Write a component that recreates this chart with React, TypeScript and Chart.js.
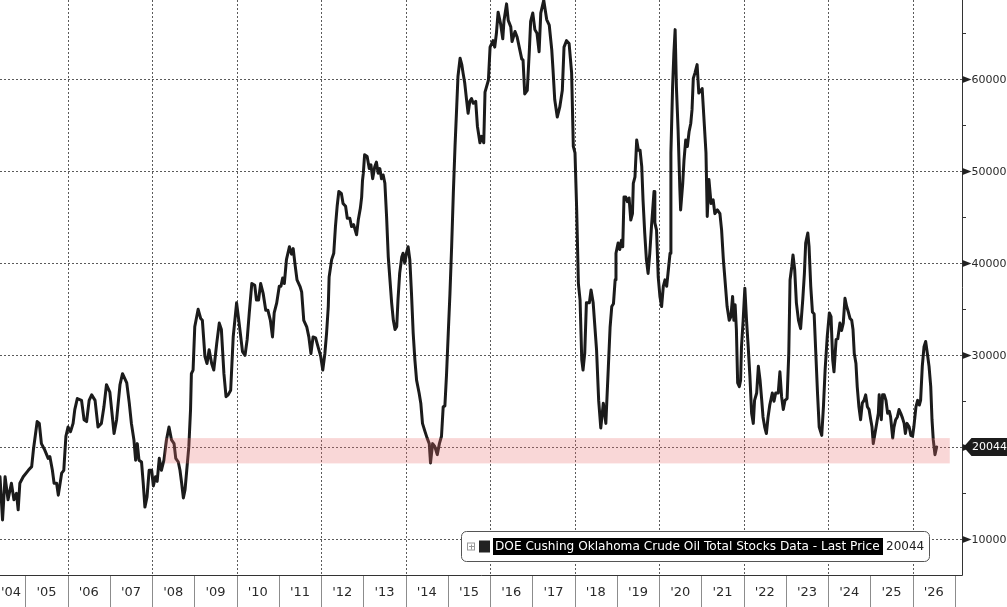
import { useEffect, useRef } from "react";
import { Chart, registerables } from "chart.js";

Chart.register(...registerables);

// ---------------- data ----------------
const seriesLabel = "DOE Cushing Oklahoma Crude Oil Total Stocks Data - Last Price";
const lastPrice = 20044;

// [decimal year, thousand barrels]
const stockSeries: [number, number][] = [
  [2004.40, 16800], [2004.46, 12100], [2004.52, 16800], [2004.59, 14300], [2004.67, 16100], [2004.73, 14300],
  [2004.79, 15000], [2004.83, 13200], [2004.87, 16100], [2004.95, 16800], [2005.07, 17500], [2005.15, 17900],
  [2005.19, 19700], [2005.28, 22800], [2005.33, 22600], [2005.38, 20400], [2005.46, 19700], [2005.54, 18800],
  [2005.58, 19000], [2005.64, 17500], [2005.68, 16100], [2005.74, 16100], [2005.78, 14800], [2005.86, 17200],
  [2005.91, 17500], [2005.96, 21200], [2006.01, 22200], [2006.07, 21700], [2006.13, 22600], [2006.17, 24100],
  [2006.23, 25300], [2006.33, 25100], [2006.39, 23000], [2006.45, 22800], [2006.51, 25100], [2006.57, 25700],
  [2006.65, 25100], [2006.72, 22200], [2006.80, 22600], [2006.86, 24400], [2006.92, 26800], [2007.00, 26000],
  [2007.10, 21500], [2007.16, 23000], [2007.24, 26800], [2007.30, 28000],
  [2007.40, 27000], [2007.46, 24800], [2007.51, 22600], [2007.57, 20800], [2007.61, 18600], [2007.65, 20400],
  [2007.69, 18600], [2007.75, 18400], [2007.79, 16100], [2007.83, 13500], [2007.88, 14600], [2007.93, 17500],
  [2007.99, 17500], [2008.03, 15800], [2008.08, 16800], [2008.12, 16300], [2008.17, 18800], [2008.22, 17500],
  [2008.28, 18600], [2008.34, 20800], [2008.40, 22200], [2008.46, 20800], [2008.52, 20400], [2008.56, 18800],
  [2008.62, 18400], [2008.66, 17500], [2008.70, 16100], [2008.74, 14500], [2008.78, 15400], [2008.82, 17500],
  [2008.87, 20100], [2008.91, 24100], [2008.93, 28000], [2008.97, 28400], [2009.01, 33100], [2009.09, 35000],
  [2009.15, 34000], [2009.19, 33800], [2009.25, 29900], [2009.30, 29100], [2009.35, 30600], [2009.41, 29100],
  [2009.46, 28400], [2009.53, 31300], [2009.59, 33500], [2009.64, 32800], [2009.70, 28000], [2009.75, 25500],
  [2009.80, 25700], [2009.86, 26200], [2009.92, 32000], [2010.00, 35700], [2010.06, 33500], [2010.14, 30400],
  [2010.20, 30000], [2010.25, 31700], [2010.30, 34600], [2010.36, 37800],
  [2010.43, 37600], [2010.47, 36000], [2010.52, 36000], [2010.57, 37800], [2010.63, 36700], [2010.69, 34900],
  [2010.74, 34900], [2010.80, 33800], [2010.85, 32000], [2010.89, 34600], [2010.95, 35700], [2011.01, 37500],
  [2011.05, 37500], [2011.09, 38400], [2011.13, 37800], [2011.18, 40400], [2011.25, 41800], [2011.30, 41000],
  [2011.34, 41600], [2011.38, 40000], [2011.43, 38200], [2011.50, 37500], [2011.54, 36900], [2011.59, 33800],
  [2011.66, 33100], [2011.71, 32000], [2011.76, 30200], [2011.81, 32000], [2011.87, 31900], [2011.93, 30900],
  [2011.99, 29900], [2012.04, 28400], [2012.09, 30200], [2012.13, 32400], [2012.17, 35300], [2012.19, 38500],
  [2012.25, 40400], [2012.30, 41100], [2012.34, 44000], [2012.38, 46200], [2012.42, 47800], [2012.48, 47600],
  [2012.52, 46500], [2012.58, 46200], [2012.62, 44900], [2012.68, 44900], [2012.72, 44000], [2012.77, 44200],
  [2012.84, 43100], [2012.88, 44700], [2012.93, 46000], [2012.96, 47200], [2012.98, 49000],
  [2013.00, 49800], [2013.03, 51800], [2013.09, 51600], [2013.14, 50300], [2013.18, 50700], [2013.22, 49200],
  [2013.27, 50500], [2013.31, 51000], [2013.35, 49800], [2013.39, 50300], [2013.43, 49200], [2013.47, 49600],
  [2013.51, 48700], [2013.55, 45100], [2013.59, 40700], [2013.63, 38200], [2013.67, 35700], [2013.71, 33800],
  [2013.75, 32800], [2013.79, 33100], [2013.82, 36000], [2013.86, 38900], [2013.91, 40700], [2013.94, 41100],
  [2013.98, 40000], [2014.02, 41100], [2014.06, 41800], [2014.10, 40400], [2014.14, 36700], [2014.18, 32400],
  [2014.22, 29500], [2014.26, 27300], [2014.32, 25900], [2014.36, 24800], [2014.40, 22600], [2014.46, 21700],
  [2014.51, 21000], [2014.56, 20400], [2014.59, 18300], [2014.64, 20400], [2014.69, 20100], [2014.75, 19200],
  [2014.80, 20400], [2014.85, 21200], [2014.89, 24400], [2014.93, 24500], [2014.97, 28000], [2015.01, 32400],
  [2015.05, 36700], [2015.09, 41800], [2015.13, 47600], [2015.17, 52700], [2015.21, 57000], [2015.24, 60300],
  [2015.29, 62300], [2015.33, 61600], [2015.36, 60700], [2015.40, 59600], [2015.44, 57900], [2015.48, 56300],
  [2015.52, 57600], [2015.56, 57900], [2015.60, 57400], [2015.66, 57600], [2015.70, 54900], [2015.76, 53100],
  [2015.80, 53800], [2015.85, 53100], [2015.88, 58600], [2015.96, 59900],
  [2016.00, 63500], [2016.07, 64200], [2016.11, 63500], [2016.15, 65000], [2016.19, 67300], [2016.25, 66000],
  [2016.30, 64400], [2016.33, 66400], [2016.39, 68200], [2016.43, 66400], [2016.49, 65700], [2016.52, 64100],
  [2016.59, 65200], [2016.64, 64600], [2016.69, 63500], [2016.75, 62200], [2016.78, 62100], [2016.82, 58400],
  [2016.88, 58800], [2016.93, 63200], [2016.96, 66300], [2017.01, 67200], [2017.06, 65400], [2017.11, 65000],
  [2017.16, 63000], [2017.20, 67200], [2017.27, 68600], [2017.34, 66500], [2017.40, 65900], [2017.46, 63200],
  [2017.49, 61000], [2017.53, 57800], [2017.59, 55900], [2017.65, 57000], [2017.71, 58800], [2017.75, 63500],
  [2017.81, 64200], [2017.87, 63900], [2017.93, 60700], [2017.97, 52700], [2018.01, 52000], [2018.05, 45800],
  [2018.09, 37800], [2018.13, 36000], [2018.17, 29500], [2018.20, 28400], [2018.24, 30200], [2018.28, 35700],
  [2018.35, 35700], [2018.39, 37100], [2018.44, 35700], [2018.52, 30600], [2018.57, 25100], [2018.62, 22100],
  [2018.68, 24800], [2018.74, 22600], [2018.80, 28800], [2018.84, 33000],
  [2018.88, 35300], [2018.92, 35600], [2018.96, 38200], [2018.98, 41100], [2019.03, 42200], [2019.07, 41500],
  [2019.11, 42500], [2019.14, 41800], [2019.17, 47200], [2019.21, 47200], [2019.25, 46700], [2019.29, 47100],
  [2019.33, 44700], [2019.37, 45400], [2019.39, 48700], [2019.43, 49400], [2019.47, 53400], [2019.51, 52300],
  [2019.55, 52300], [2019.59, 50500], [2019.62, 46900], [2019.66, 43300], [2019.70, 40400], [2019.74, 38900],
  [2019.78, 41100], [2019.82, 44000], [2019.88, 47800], [2019.90, 44400], [2019.94, 43600], [2019.98, 38500],
  [2020.02, 36400], [2020.06, 35300], [2020.10, 37500], [2020.14, 38200], [2020.18, 37500], [2020.22, 39300],
  [2020.26, 41100], [2020.28, 52000], [2020.32, 59200], [2020.35, 62800], [2020.38, 65400], [2020.41, 59200],
  [2020.45, 54500], [2020.49, 48300], [2020.51, 45800], [2020.56, 48700], [2020.59, 51200], [2020.63, 53400],
  [2020.67, 52700], [2020.71, 54300], [2020.75, 55200], [2020.78, 56700], [2020.81, 60100], [2020.85, 60700],
  [2020.90, 61600], [2020.94, 58500], [2020.99, 58800], [2021.02, 59000], [2021.06, 55900], [2021.11, 52000],
  [2021.14, 45100], [2021.18, 49100], [2021.23, 46500], [2021.28, 46900], [2021.32, 45400], [2021.38, 45800],
  [2021.44, 45400], [2021.48, 43600],
  [2021.52, 40500], [2021.56, 38200], [2021.61, 35300], [2021.66, 33800], [2021.70, 34200], [2021.74, 36400],
  [2021.77, 33800], [2021.80, 35500], [2021.83, 32800], [2021.86, 27000], [2021.90, 26600], [2021.93, 27300],
  [2021.95, 30900], [2021.99, 33800], [2022.03, 37300], [2022.07, 33800], [2022.11, 30900], [2022.15, 27700],
  [2022.19, 23700], [2022.23, 22600], [2022.26, 25100], [2022.31, 25900], [2022.35, 28800], [2022.39, 27300],
  [2022.43, 25100], [2022.46, 23300], [2022.50, 22200], [2022.54, 21500], [2022.58, 23300], [2022.62, 24600],
  [2022.68, 25900], [2022.72, 25000], [2022.76, 25900], [2022.82, 25900], [2022.86, 28200], [2022.90, 25500],
  [2022.94, 24100], [2022.98, 25100], [2023.03, 25300], [2023.07, 30200], [2023.10, 38200], [2023.14, 39600],
  [2023.17, 40900], [2023.21, 39300], [2023.25, 35700], [2023.30, 33800], [2023.35, 32900], [2023.40, 36000],
  [2023.44, 38900], [2023.47, 42200], [2023.52, 43300], [2023.55, 41800], [2023.59, 37500], [2023.63, 34700],
  [2023.67, 34500], [2023.71, 30200], [2023.75, 25900], [2023.79, 22200], [2023.85, 21300], [2023.89, 24400],
  [2023.93, 28400], [2023.98, 32000], [2024.03, 34600], [2024.07, 34200], [2024.11, 29500], [2024.14, 28200],
  [2024.19, 31700], [2024.23, 31800], [2024.28, 33500], [2024.32, 32700], [2024.36, 33500], [2024.40, 36200],
  [2024.44, 35300], [2024.48, 34700], [2024.52, 34000], [2024.56, 33800], [2024.59, 32800], [2024.62, 30200],
  [2024.66, 29100], [2024.69, 26600], [2024.73, 24400], [2024.77, 23000], [2024.81, 24800], [2024.85, 25100],
  [2024.89, 25700], [2024.93, 24400], [2024.97, 24100], [2025.01, 23000], [2025.04, 22200], [2025.07, 20400],
  [2025.11, 21500], [2025.15, 22600], [2025.19, 23700], [2025.21, 25700], [2025.26, 23000], [2025.29, 25700],
  [2025.33, 25700], [2025.37, 25100], [2025.41, 23700], [2025.45, 23900], [2025.48, 23300], [2025.53, 21000],
  [2025.56, 22200], [2025.60, 23000], [2025.64, 23300], [2025.68, 24100], [2025.72, 23700], [2025.76, 23200],
  [2025.80, 22600], [2025.83, 21500], [2025.87, 22600], [2025.92, 22200], [2025.96, 21300], [2026.00, 21200],
  [2026.03, 22200], [2026.08, 24400], [2026.12, 25100], [2026.16, 24600], [2026.19, 25100], [2026.23, 28800],
  [2026.27, 30900], [2026.31, 31500], [2026.35, 30200], [2026.39, 28800], [2026.43, 26600], [2026.46, 23000],
  [2026.49, 20800], [2026.53, 19200], [2026.57, 20044],
];

const yMajorTicks = [10000, 20000, 30000, 40000, 50000, 60000];
const yMinorTicks = [15000, 25000, 35000, 45000, 55000, 65000];
const xLabelYears = [
  2004, 2005, 2006, 2007, 2008, 2009, 2010, 2011, 2012, 2013, 2014, 2015,
  2016, 2017, 2018, 2019, 2020, 2021, 2022, 2023, 2024, 2025, 2026,
];
const xGridYears = [2006, 2008, 2010, 2012, 2014, 2016, 2018, 2020, 2022, 2024, 2026];
const xSeparatorYears = [
  2005, 2006, 2007, 2008, 2009, 2010, 2011, 2012, 2013, 2014, 2015, 2016,
  2017, 2018, 2019, 2020, 2021, 2022, 2023, 2024, 2025, 2026, 2027,
];
const bandRange = [18250, 21000];
const bandYears = [2008.3, 2026.88];
const xRange = [2004.4, 2027.17];
const yRange = [6120, 68620];

const FONT = '"DejaVu Sans", Verdana, sans-serif';

function hline(ctx: CanvasRenderingContext2D, x0: number, x1: number, y: number) {
  ctx.beginPath();
  ctx.moveTo(x0, y);
  ctx.lineTo(x1, y);
  ctx.stroke();
}
function vline(ctx: CanvasRenderingContext2D, x: number, y0: number, y1: number) {
  ctx.beginPath();
  ctx.moveTo(x, y0);
  ctx.lineTo(x, y1);
  ctx.stroke();
}

const overlayPlugin = {
  id: "bbgOverlay",
  beforeDatasetsDraw(chart: any) {
    const { ctx, chartArea: ca, scales } = chart;
    const xs = scales.x;
    const ys = scales.y;
    ctx.save();
    ctx.strokeStyle = "#5a5a5a";
    ctx.lineWidth = 1;
    ctx.setLineDash([2, 2]);
    for (const v of yMajorTicks) {
      const py = Math.round(ys.getPixelForValue(v)) + 0.5;
      hline(ctx, ca.left, ca.right, py);
    }
    for (const yr of xGridYears) {
      const px = Math.round(xs.getPixelForValue(yr)) + 0.5;
      vline(ctx, px, ca.top, ca.bottom);
    }
    ctx.restore();
  },
  afterDatasetsDraw(chart: any) {
    const { ctx, chartArea: ca, scales } = chart;
    const xs = scales.x;
    const ys = scales.y;
    const W = chart.width;
    const H = chart.height;
    ctx.save();

    // highlighted band (drawn over the line, translucent)
    const bx0 = xs.getPixelForValue(bandYears[0]);
    const bx1 = xs.getPixelForValue(bandYears[1]);
    const by0 = ys.getPixelForValue(bandRange[1]);
    const by1 = ys.getPixelForValue(bandRange[0]);
    ctx.fillStyle = "rgba(235,110,110,0.28)";
    ctx.fillRect(bx0, by0, bx1 - bx0, by1 - by0);

    // axis lines
    ctx.setLineDash([]);
    ctx.strokeStyle = "#333";
    ctx.lineWidth = 1;
    const ax = Math.round(ca.right) + 0.5;
    const ay = Math.round(ca.bottom) + 0.5;
    vline(ctx, ax, ca.top, ay);
    hline(ctx, ca.left, ax, ay);

    // year separators under the axis
    ctx.strokeStyle = "#8c8c8c";
    for (const yr of xSeparatorYears) {
      const px = Math.round(xs.getPixelForValue(yr)) + 0.5;
      vline(ctx, px, ay + 0.5, H);
    }

    // x labels
    ctx.fillStyle = "#2a2a2a";
    ctx.font = `13px ${FONT}`;
    ctx.textAlign = "center";
    ctx.textBaseline = "middle";
    for (const yr of xLabelYears) {
      const t = "'" + String(yr).slice(2);
      const w = ctx.measureText(t).width;
      let cx = xs.getPixelForValue(yr + 0.5);
      cx = Math.max(cx, w / 2 + 1);
      cx = Math.min(cx, W - w / 2 - 1);
      ctx.fillText(t, cx, ay + 17);
    }

    // y ticks
    ctx.strokeStyle = "#333";
    ctx.fillStyle = "#222";
    for (const v of yMinorTicks) {
      const py = Math.round(ys.getPixelForValue(v)) + 0.5;
      hline(ctx, ax, ax + 3.5, py);
    }
    for (const v of yMajorTicks) {
      const py = Math.round(ys.getPixelForValue(v)) + 0.5;
      ctx.beginPath();
      ctx.moveTo(ax, py - 3.5);
      ctx.lineTo(ax + 9, py);
      ctx.lineTo(ax, py + 3.5);
      ctx.closePath();
      ctx.fill();
    }
    ctx.font = `11px ${FONT}`;
    ctx.textAlign = "left";
    ctx.fillStyle = "#2a2a2a";
    for (const v of yMajorTicks) {
      if (Math.abs(v - lastPrice) < 1500) continue;
      const py = ys.getPixelForValue(v);
      ctx.fillText(String(v), ax + 9, py + 0.5);
    }

    // last value tag
    const ty = ys.getPixelForValue(lastPrice);
    ctx.fillStyle = "#1c1c1c";
    ctx.beginPath();
    ctx.moveTo(ax + 1, ty);
    ctx.lineTo(ax + 9, ty - 9);
    ctx.lineTo(W, ty - 9);
    ctx.lineTo(W, ty + 9);
    ctx.lineTo(ax + 9, ty + 9);
    ctx.closePath();
    ctx.fill();
    ctx.fillStyle = "#fff";
    ctx.font = `11px ${FONT}`;
    ctx.fillText(String(lastPrice), ax + 9.5, ty + 0.5);

    // legend box
    const lx = 461.5;
    const ly = 531.5;
    const lw = 468;
    const lh = 30;
    ctx.beginPath();
    (ctx as any).roundRect(lx, ly, lw, lh, 5);
    ctx.fillStyle = "#fff";
    ctx.fill();
    ctx.strokeStyle = "#555";
    ctx.stroke();
    const cy = ly + lh / 2;
    // expand icon
    ctx.strokeStyle = "#999";
    ctx.strokeRect(467.5, cy - 3.5, 7, 7);
    hline(ctx, 469, 474, cy);
    vline(ctx, 471.5, cy - 2, cy + 3);
    // series swatch
    ctx.fillStyle = "#222";
    ctx.fillRect(479, cy - 6, 11, 12);
    // highlighted label
    ctx.fillStyle = "#000";
    ctx.fillRect(493, cy - 8.5, 390, 17);
    let fs = 12;
    ctx.font = `${fs}px ${FONT}`;
    const tw = ctx.measureText(seriesLabel).width;
    fs = Math.max(9, Math.min(13, (fs * 385) / tw));
    ctx.font = `${fs}px ${FONT}`;
    ctx.fillStyle = "#fff";
    ctx.textAlign = "left";
    ctx.fillText(seriesLabel, 495, cy + 0.5);
    ctx.fillStyle = "#222";
    ctx.font = `12px ${FONT}`;
    ctx.fillText(String(lastPrice), 886, cy + 0.5);

    ctx.restore();
  },
};

export default function App() {
  const ref = useRef<HTMLCanvasElement | null>(null);
  useEffect(() => {
    const canvas = ref.current;
    if (!canvas) return;
    const chart = new Chart(canvas, {
      type: "line",
      data: {
        datasets: [
          {
            label: seriesLabel,
            data: stockSeries.map(([x, y]) => ({ x, y })),
            borderColor: "#1b1b1b",
            borderWidth: 3,
            pointRadius: 0,
            tension: 0,
            fill: false,
            borderJoinStyle: "round",
            borderCapStyle: "round",
          },
        ],
      },
      options: {
        animation: false,
        responsive: false,
        events: [],
        layout: { padding: { left: 0, top: 0, right: 45, bottom: 32 } },
        scales: {
          x: { type: "linear", min: xRange[0], max: xRange[1], display: false },
          y: { type: "linear", min: yRange[0], max: yRange[1], display: false },
        },
        plugins: { legend: { display: false }, tooltip: { enabled: false } },
      },
      plugins: [overlayPlugin],
    } as any);
    return () => chart.destroy();
  }, []);
  return (
    <div style={{ position: "fixed", left: 0, top: 0, width: 1007, height: 607, background: "#fff" }}>
      <canvas ref={ref} width={1007} height={607} style={{ display: "block", width: 1007, height: 607 }} />
    </div>
  );
}
